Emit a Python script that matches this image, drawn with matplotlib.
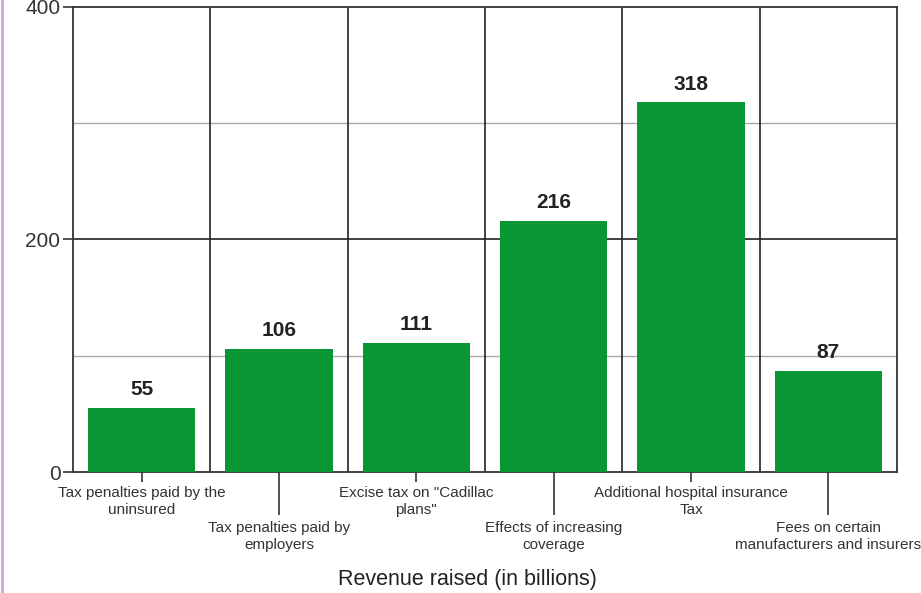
import numpy as np
import matplotlib
matplotlib.use('Agg')
import matplotlib.pyplot as plt
import matplotlib.transforms as mtransforms
from matplotlib.lines import Line2D

plt.rcParams['font.family'] = ['Liberation Sans', 'DejaVu Sans']

categories = ['Tax penalties paid by the\nuninsured',
              'Tax penalties paid by\nemployers',
              'Excise tax on "Cadillac\nplans"',
              'Effects of increasing\ncoverage',
              'Additional hospital insurance\nTax',
              'Fees on certain\nmanufacturers and insurers']
values = [55, 106, 111, 216, 318, 87]
ylabels = [0, 200, 400]

fig = plt.figure(figsize=(9.21, 5.93), dpi=100)
ax = fig.add_axes([73/921, 1-472/593, 824/921, 465/593])

x = np.arange(len(categories))
ax.bar(x, values, width=0.78, color='#0a9634', zorder=3)
for xi, v in zip(x, values):
    ax.text(xi, v + 11, str(v), ha='center', va='baseline', fontsize=15,
            fontweight='bold', color='#222222', zorder=4)

ax.set_xlim(-0.5, len(categories) - 0.5)
ax.set_ylim(0, 400)

# grid
for yv in [100, 300]:
    ax.axhline(yv, color='#aaaaaa', lw=1, zorder=1)
ax.axhline(200, color='#222222', lw=1.2, zorder=1)
for xv in np.arange(0.5, len(categories) - 0.5, 1):
    ax.axvline(xv, color='#222222', lw=1.2, zorder=1)

for s in ax.spines.values():
    s.set_color('#333333')
    s.set_linewidth(1.3)

ax.set_yticks(ylabels)
ax.set_yticklabels([str(v) for v in ylabels], fontsize=15, color='#333333')
ax.tick_params(axis='y', length=7, width=1.2, color='#333333', pad=2)

# x ticks: short for even, long for odd categories
ax.set_xticks(x[::2])
ax.set_xticklabels([])
ax.set_xticks(x[1::2], minor=True)
ax.tick_params(axis='x', which='major', length=7, width=1.2, color='#333333')
ax.tick_params(axis='x', which='minor', length=31, width=1.2, color='#333333')

trans = mtransforms.blended_transform_factory(ax.transData, fig.transFigure)
for i, lab in enumerate(categories):
    ytop = 1 - 486/593 if i % 2 == 0 else 1 - 521/593
    ax.text(i, ytop, lab, transform=trans, ha='center', va='top',
            fontsize=11, color='#333333', linespacing=1.3)

fig.text(467/921, 1 - 580/593, 'Revenue raised (in billions)', ha='center',
         va='center', fontsize=15.5, color='#222222')

# faint purple edge on the left of the image
fig.add_artist(Line2D([1.5/921, 1.5/921], [0, 1], transform=fig.transFigure,
                      color='#c9a9d3', lw=2))

fig.savefig('out.png', dpi=100)
